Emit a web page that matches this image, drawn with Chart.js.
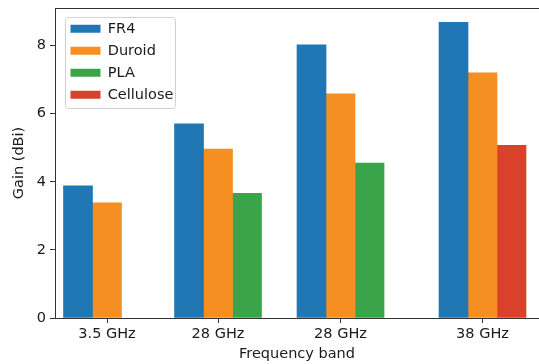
<!DOCTYPE html>
<html>
<head>
<meta charset="utf-8">
<script src="https://cdn.jsdelivr.net/npm/chart.js@4/dist/chart.umd.min.js"></script>
<style>
  html, body { margin: 0; padding: 0; background: #fff; overflow: hidden; }
  #wrap { width: 539px; height: 364px; position: relative; }
</style>
</head>
<body>
<div id="wrap"><canvas id="chart"></canvas></div>
<script>
const bands = ["3.5 GHz", "28 GHz", "28 GHz", "38 GHz"];
const bandX = [0, 0.957, 2.013, 3.237];
const fr4 = [3.88, 5.70, 8.02, 8.68];
const duroid = [3.38, 4.96, 6.58, 7.20];
const pla = [null, 3.66, 4.55, null];
const cellulose = [null, null, null, 5.07];
const yTicks = [0, 2, 4, 6, 8];

const axisColor = "#333333";
const textColor = "#1a1a1a";
const font = { family: "'DejaVu Sans', sans-serif", size: 14.5 };

// turn a series into {x, y} points, shifted inside its group
function points(values, shift) {
  const out = [];
  values.forEach((v, i) => {
    if (v !== null) out.push({ x: bandX[i] + shift, y: v });
  });
  return out;
}

// matplotlib-like legend frame and top spine
const decorations = {
  id: "decorations",
  afterLayout(chart) {
    const ca = chart.chartArea;
    const lg = chart.legend;
    lg.left = ca.left + 8;
    lg.top = ca.top + 6;
    lg.right = ca.left + 130;
    lg.bottom = ca.top + 110;
  },
  beforeDraw(chart) {
    const ctx = chart.ctx;
    const ca = chart.chartArea;
    const x = ca.left + 10, y = ca.top + 9, w = 110, h = 91, r = 3;
    ctx.save();
    ctx.beginPath();
    ctx.roundRect(x + 0.5, y + 0.5, w, h, r);
    ctx.fillStyle = "rgba(255,255,255,0.8)";
    ctx.fill();
    ctx.strokeStyle = "#d0d0d0";
    ctx.lineWidth = 1;
    ctx.stroke();
    ctx.restore();
  },
  afterDraw(chart) {
    const ctx = chart.ctx;
    const ca = chart.chartArea;
    ctx.save();
    ctx.strokeStyle = axisColor;
    ctx.lineWidth = 1;
    ctx.beginPath();
    ctx.moveTo(ca.left, ca.top + 0.5);
    ctx.lineTo(ca.right, ca.top + 0.5);
    ctx.stroke();
    ctx.restore();
  }
};

new Chart(document.getElementById("chart"), {
  type: "bar",
  data: {
    datasets: [
      { label: "FR4", data: points(fr4, -0.25), backgroundColor: "#2077b4" },
      { label: "Duroid", data: points(duroid, 0), backgroundColor: "#f68f22" },
      { label: "PLA", data: points(pla, 0.25), backgroundColor: "#39a449" },
      { label: "Cellulose", data: points(cellulose, 0.25), backgroundColor: "#d9412b" },
    ],
  },
  options: {
    responsive: true,
    maintainAspectRatio: false,
    animation: false,
    layout: { padding: { top: 8, right: 0, bottom: 0, left: 0 } },
    datasets: {
      bar: { grouped: false, barThickness: 29, borderWidth: 0 },
    },
    plugins: {
      tooltip: { enabled: false },
      legend: {
        position: "chartArea",
        align: "start",
        labels: {
          font: font,
          color: textColor,
          boxWidth: 30,
          boxHeight: 8,
          padding: 7.5,
        },
      },
    },
    scales: {
      x: {
        type: "linear",
        offset: false,
        min: -0.4483,
        max: 3.724,
        border: { color: axisColor, width: 1 },
        grid: { drawOnChartArea: false, drawTicks: true, tickLength: 5, color: axisColor, offset: false },
        afterBuildTicks(scale) {
          scale.ticks = bandX.map((v) => ({ value: v }));
        },
        afterFit(scale) {
          scale.height = 46;
          scale.paddingLeft = 0;
          scale.paddingRight = 0;
        },
        ticks: {
          autoSkip: false,
          maxRotation: 0,
          padding: 3,
          color: textColor,
          font: font,
          callback: (value, index) => bands[index],
        },
        title: {
          display: true,
          text: "Frequency band",
          color: textColor,
          font: font,
          padding: { top: 0, bottom: 1 },
        },
      },
      y: {
        min: 0,
        max: 9.1,
        border: { color: axisColor, width: 1 },
        grid: { drawOnChartArea: false, drawTicks: true, tickLength: 5, color: axisColor },
        afterBuildTicks(scale) {
          scale.ticks = yTicks.map((v) => ({ value: v }));
        },
        afterFit(scale) {
          scale.width = 55;
          scale.paddingTop = 0;
          scale.paddingBottom = 0;
        },
        ticks: {
          padding: 4,
          color: textColor,
          font: font,
        },
        title: {
          display: true,
          text: "Gain (dBi)",
          color: textColor,
          font: font,
          padding: { top: 11, bottom: 0 },
        },
      },
    },
  },
  plugins: [decorations],
});
</script>
</body>
</html>
